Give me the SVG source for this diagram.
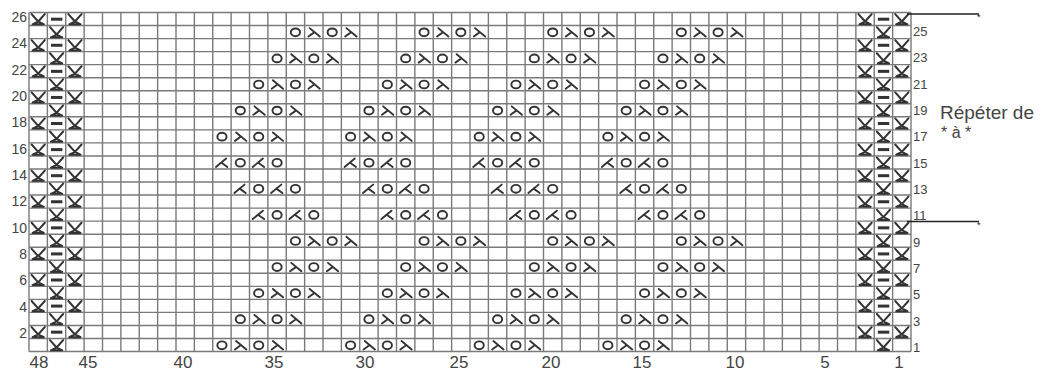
<svg xmlns="http://www.w3.org/2000/svg" xmlns:xlink="http://www.w3.org/1999/xlink" width="1047" height="371" viewBox="0 0 1047 371">
<style>
.grid{fill:none;stroke:#7a7a7a;stroke-width:1.4}
.sym{fill:none;stroke:#333;stroke-width:1.9;stroke-linecap:round;stroke-linejoin:round}
.lbl{font-family:"Liberation Sans",Arial,sans-serif;fill:#444}
.l{font-size:14px;text-anchor:end}
.r{font-size:13px}
.b{font-size:17px;text-anchor:middle}
.rep{stroke:#222;stroke-width:1.6}
</style>
<defs>
<ellipse id="o" class="sym" cx="9.2" cy="6.8" rx="4.6" ry="3.9"/>
<path id="k" class="sym" d="M5 2.6 L15.2 11 M9.9 6.6 L3.8 11"/>
<path id="s" class="sym" d="M13.4 2.6 L3.2 11 M8.5 6.6 L14.6 11"/>
<path id="x" class="sym" style="stroke-width:2" d="M2.6 1.6 L9.2 9 L15.8 1.6 M3.6 11.8 L9.2 9 L14.8 11.8 M3.6 11.8 H14.8"/>
<rect id="d" x="3.6" y="5.2" width="11.4" height="3" fill="#333"/>
<g id="A"><use href="#o"/><use href="#k" x="18.375"/><use href="#o" x="36.75"/><use href="#k" x="55.125"/></g>
<g id="B"><use href="#s"/><use href="#o" x="18.375"/><use href="#s" x="36.75"/><use href="#o" x="55.125"/></g>
<g id="rowA"><use href="#A"/><use href="#A" x="128.625"/><use href="#A" x="257.25"/><use href="#A" x="385.875"/></g>
<g id="rowB"><use href="#B"/><use href="#B" x="128.625"/><use href="#B" x="257.25"/><use href="#B" x="385.875"/></g>
<g id="eE"><use href="#x"/><use href="#d" x="18.375"/><use href="#x" x="36.75"/></g>
<g id="eO"><use href="#x" x="18.375"/></g>
</defs>
<rect width="1047" height="371" fill="#fff"/>
<g id="grid">
<path class="grid" d="M29 12.5V351.54M47.375 12.5V351.54M65.75 12.5V351.54M84.125 12.5V351.54M102.5 12.5V351.54M120.875 12.5V351.54M139.25 12.5V351.54M157.625 12.5V351.54M176 12.5V351.54M194.375 12.5V351.54M212.75 12.5V351.54M231.125 12.5V351.54M249.5 12.5V351.54M267.875 12.5V351.54M286.25 12.5V351.54M304.625 12.5V351.54M323 12.5V351.54M341.375 12.5V351.54M359.75 12.5V351.54M378.125 12.5V351.54M396.5 12.5V351.54M414.875 12.5V351.54M433.25 12.5V351.54M451.625 12.5V351.54M470 12.5V351.54M488.375 12.5V351.54M506.75 12.5V351.54M525.125 12.5V351.54M543.5 12.5V351.54M561.875 12.5V351.54M580.25 12.5V351.54M598.625 12.5V351.54M617 12.5V351.54M635.375 12.5V351.54M653.75 12.5V351.54M672.125 12.5V351.54M690.5 12.5V351.54M708.875 12.5V351.54M727.25 12.5V351.54M745.625 12.5V351.54M764 12.5V351.54M782.375 12.5V351.54M800.75 12.5V351.54M819.125 12.5V351.54M837.5 12.5V351.54M855.875 12.5V351.54M874.25 12.5V351.54M892.625 12.5V351.54M911 12.5V351.54
M29 12.5H911M29 25.54H911M29 38.58H911M29 51.62H911M29 64.66H911M29 77.7H911M29 90.74H911M29 103.78H911M29 116.82H911M29 129.86H911M29 142.9H911M29 155.94H911M29 168.98H911M29 182.02H911M29 195.06H911M29 208.1H911M29 221.14H911M29 234.18H911M29 247.22H911M29 260.26H911M29 273.3H911M29 286.34H911M29 299.38H911M29 312.42H911M29 325.46H911M29 338.5H911M29 351.54H911"/>
</g>
<g id="edges">
<use href="#eE" x="29" y="12.5"/><use href="#eE" x="855.875" y="12.5"/>
<use href="#eO" x="29" y="25.54"/><use href="#eO" x="855.875" y="25.54"/>
<use href="#eE" x="29" y="38.58"/><use href="#eE" x="855.875" y="38.58"/>
<use href="#eO" x="29" y="51.62"/><use href="#eO" x="855.875" y="51.62"/>
<use href="#eE" x="29" y="64.66"/><use href="#eE" x="855.875" y="64.66"/>
<use href="#eO" x="29" y="77.7"/><use href="#eO" x="855.875" y="77.7"/>
<use href="#eE" x="29" y="90.74"/><use href="#eE" x="855.875" y="90.74"/>
<use href="#eO" x="29" y="103.78"/><use href="#eO" x="855.875" y="103.78"/>
<use href="#eE" x="29" y="116.82"/><use href="#eE" x="855.875" y="116.82"/>
<use href="#eO" x="29" y="129.86"/><use href="#eO" x="855.875" y="129.86"/>
<use href="#eE" x="29" y="142.9"/><use href="#eE" x="855.875" y="142.9"/>
<use href="#eO" x="29" y="155.94"/><use href="#eO" x="855.875" y="155.94"/>
<use href="#eE" x="29" y="168.98"/><use href="#eE" x="855.875" y="168.98"/>
<use href="#eO" x="29" y="182.02"/><use href="#eO" x="855.875" y="182.02"/>
<use href="#eE" x="29" y="195.06"/><use href="#eE" x="855.875" y="195.06"/>
<use href="#eO" x="29" y="208.1"/><use href="#eO" x="855.875" y="208.1"/>
<use href="#eE" x="29" y="221.14"/><use href="#eE" x="855.875" y="221.14"/>
<use href="#eO" x="29" y="234.18"/><use href="#eO" x="855.875" y="234.18"/>
<use href="#eE" x="29" y="247.22"/><use href="#eE" x="855.875" y="247.22"/>
<use href="#eO" x="29" y="260.26"/><use href="#eO" x="855.875" y="260.26"/>
<use href="#eE" x="29" y="273.3"/><use href="#eE" x="855.875" y="273.3"/>
<use href="#eO" x="29" y="286.34"/><use href="#eO" x="855.875" y="286.34"/>
<use href="#eE" x="29" y="299.38"/><use href="#eE" x="855.875" y="299.38"/>
<use href="#eO" x="29" y="312.42"/><use href="#eO" x="855.875" y="312.42"/>
<use href="#eE" x="29" y="325.46"/><use href="#eE" x="855.875" y="325.46"/>
<use href="#eO" x="29" y="338.5"/><use href="#eO" x="855.875" y="338.5"/>
</g>
<g id="motif">
<use href="#rowA" x="286.25" y="25.54"/>
<use href="#rowA" x="267.875" y="51.62"/>
<use href="#rowA" x="249.5" y="77.7"/>
<use href="#rowA" x="231.125" y="103.78"/>
<use href="#rowA" x="212.75" y="129.86"/>
<use href="#rowB" x="212.75" y="155.94"/>
<use href="#rowB" x="231.125" y="182.02"/>
<use href="#rowB" x="249.5" y="208.1"/>
<use href="#rowA" x="286.25" y="234.18"/>
<use href="#rowA" x="267.875" y="260.26"/>
<use href="#rowA" x="249.5" y="286.34"/>
<use href="#rowA" x="231.125" y="312.42"/>
<use href="#rowA" x="212.75" y="338.5"/>
</g>
<g id="left-labels" class="lbl l">
<text x="27" y="22">26</text><text x="27" y="48.3">24</text><text x="27" y="74.7">22</text><text x="27" y="101">20</text><text x="27" y="127.4">18</text><text x="27" y="153.7">16</text><text x="27" y="180">14</text><text x="27" y="206.4">12</text><text x="27" y="232.7">10</text><text x="27" y="259">8</text><text x="27" y="285.4">6</text><text x="27" y="311.7">4</text><text x="27" y="338">2</text>
</g>
<g id="right-labels" class="lbl r">
<text x="913" y="36">25</text><text x="913" y="62.3">23</text><text x="913" y="88.7">21</text><text x="913" y="115">19</text><text x="913" y="141.4">17</text><text x="913" y="167.7">15</text><text x="913" y="194">13</text><text x="913" y="220.4">11</text><text x="913" y="246.7">9</text><text x="913" y="273">7</text><text x="913" y="299.4">5</text><text x="913" y="325.7">3</text><text x="913" y="352">1</text>
</g>
<g id="bottom-labels" class="lbl b">
<text x="39" y="368">48</text><text x="88" y="368">45</text><text x="183" y="368">40</text><text x="274" y="368">35</text><text x="365" y="368">30</text><text x="459" y="368">25</text><text x="551" y="368">20</text><text x="642" y="368">15</text><text x="735" y="368">10</text><text x="825" y="368">5</text><text x="899" y="368">1</text>
</g>
<g id="repeat">
<line class="rep" x1="907" y1="14" x2="979" y2="14"/>
<line class="rep" x1="907" y1="221.5" x2="979" y2="221.5"/>
<text class="lbl" x="977" y="20" style="font-size:9px;fill:#222">*</text>
<text class="lbl" x="977" y="227.5" style="font-size:9px;fill:#222">*</text>
<text class="lbl" x="940" y="119" style="font-size:19px">Répéter de</text>
<text class="lbl" x="941" y="138" style="font-size:16px">* à *</text>
</g>
</svg>
